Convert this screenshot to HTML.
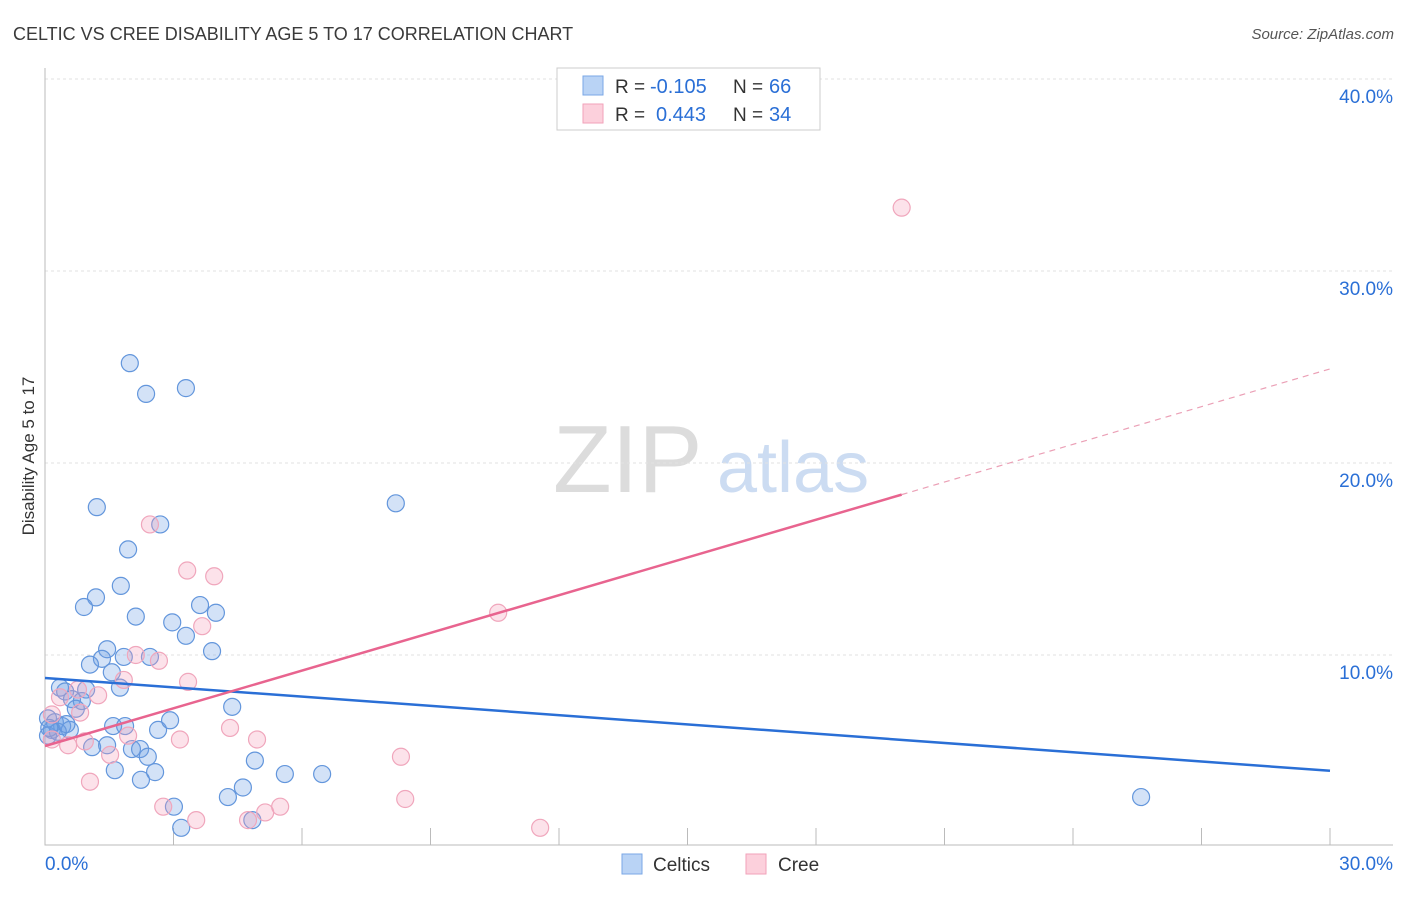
<!DOCTYPE html>
<html><head><meta charset="utf-8"><style>
body{margin:0;background:#fff;font-family:"Liberation Sans",sans-serif}
svg text{font-family:"Liberation Sans",sans-serif}
</style></head><body>
<svg width="1406" height="892" xmlns="http://www.w3.org/2000/svg">
<text x="13" y="40" font-size="18" fill="#3a3a3a">CELTIC VS CREE DISABILITY AGE 5 TO 17 CORRELATION CHART</text>
<text x="1394" y="39" font-size="15" fill="#555" font-style="italic" text-anchor="end">Source: ZipAtlas.com</text>
<g>
<text x="553" y="492" font-size="96" fill="#dcdcdc" font-family="Liberation Serif,serif">ZIP</text>
<text x="717" y="492" font-size="72" fill="#ccdcf2">atlas</text>
</g>
<g id="grid"></g>
<g id="axes"></g>
<g id="marks"></g>
<text transform="translate(34,456) rotate(-90)" font-size="17" fill="#333" text-anchor="middle">Disability Age 5 to 17</text>
<g>
<rect x="557" y="68" width="263" height="62" fill="#fff" stroke="#ccc"/>
<rect x="583" y="76" width="20" height="19" fill="#b9d3f5" stroke="#7aa7e6"/>
<rect x="583" y="104" width="20" height="19" fill="#fcd0dc" stroke="#f2a2ba"/>
<text x="615" y="93" font-size="19" fill="#333">R =</text>
<text x="650" y="93" font-size="20" fill="#2a6fd6">-0.105</text>
<text x="733" y="93" font-size="19" fill="#333">N =</text>
<text x="769" y="93" font-size="20" fill="#2a6fd6">66</text>
<text x="615" y="121" font-size="19" fill="#333">R =</text>
<text x="656" y="121" font-size="20" fill="#2a6fd6">0.443</text>
<text x="733" y="121" font-size="19" fill="#333">N =</text>
<text x="769" y="121" font-size="20" fill="#2a6fd6">34</text>
</g>
<g>
<rect x="622" y="854" width="20" height="20" fill="#b9d3f5" stroke="#7aa7e6"/>
<text x="653" y="871" font-size="19" fill="#333">Celtics</text>
<rect x="746" y="854" width="20" height="20" fill="#fcd0dc" stroke="#f2a2ba"/>
<text x="778" y="871" font-size="19" fill="#333">Cree</text>
</g>
</svg>
<script>
const xTicks=[0,30];
const yTicks=[10,20,30,40];
const celticsX=[1.98,2.36,3.29,1.21,2.69,8.19,1.94,1.77,1.19,0.91,2.12,3.62,3.99,2.97,3.29,3.90,1.45,1.33,1.05,1.84,2.45,1.56,0.35,0.47,0.96,1.75,0.63,0.86,0.72,4.37,0.07,0.23,0.40,0.16,0.58,1.59,1.87,2.64,2.92,0.07,1.10,1.45,2.03,2.22,2.40,4.90,1.63,2.57,5.60,6.47,2.24,4.62,4.27,3.01,4.84,3.18,25.59,0.3,0.5,0.1];
const celticsY=[25.2,23.6,23.9,17.7,16.8,17.9,15.5,13.6,13.0,12.5,12.0,12.6,12.2,11.7,11.0,10.2,10.3,9.8,9.5,9.9,9.9,9.1,8.3,8.1,8.2,8.3,7.7,7.6,7.2,7.3,6.7,6.5,6.3,6.1,6.1,6.3,6.3,6.1,6.6,5.8,5.2,5.3,5.1,5.1,4.7,4.5,4.0,3.9,3.8,3.8,3.5,3.1,2.6,2.1,1.4,1.0,2.6,6.0,6.4,6.2];
const creeX=[20.0,2.45,3.32,3.95,10.58,3.67,2.12,2.66,3.34,1.84,1.24,0.77,0.35,0.82,0.16,4.32,3.15,4.95,1.94,0.54,1.52,8.31,1.05,2.76,3.53,5.49,5.14,4.74,8.41,11.56,0.16,0.93];
const creeY=[33.3,16.8,14.4,14.1,12.2,11.5,10.0,9.7,8.6,8.7,7.9,8.2,7.8,7.0,6.9,6.2,5.6,5.6,5.8,5.3,4.8,4.7,3.4,2.1,1.4,2.1,1.8,1.4,2.5,1.0,5.6,5.5];
const celticsTrend=[8.8,3.97];
const creeTrend=[5.26,24.9];
const creeSolidEnd=20;
const NS='http://www.w3.org/2000/svg';
const X=v=>45+v/30*1285, Y=v=>847-v*19.2;
function mk(t,a,p){const e=document.createElementNS(NS,t);for(const k in a)e.setAttribute(k,a[k]);p.appendChild(e);return e;}
const grid=document.getElementById('grid'),axes=document.getElementById('axes'),marks=document.getElementById('marks');
yTicks.forEach(v=>{const l=mk('line',{x1:45,x2:1393,y1:Y(v),y2:Y(v),stroke:'#e2e2e2','stroke-dasharray':'3,3'},grid);


const t=mk('text',{x:1393,y:Y(v)+24,'font-size':19,fill:'#2a6fd6','text-anchor':'end'},axes);t.textContent=v.toFixed(1)+'%';

});
const ax=mk('path',{d:'M45 68V845H1393',stroke:'#bbb',fill:'none'},axes);


for(let i=0;i<=10;i++){const tk=mk('line',{x1:X(i*3),x2:X(i*3),y1:828,y2:845,stroke:'#bbb'},axes);

}
xTicks.forEach((v,i)=>{const t=mk('text',{x:i?1393:45,y:870,'font-size':19,fill:'#2a6fd6','text-anchor':i?'end':'start'},axes);t.textContent=v.toFixed(1)+'%';

});
celticsX.forEach((x,i)=>{const c=mk('circle',{cx:X(x),cy:Y(celticsY[i]),r:8.5,fill:'rgba(110,160,230,0.3)',stroke:'#6396dc','stroke-width':1.2},marks);

});
creeX.forEach((x,i)=>{const c=mk('circle',{cx:X(x),cy:Y(creeY[i]),r:8.5,fill:'rgba(245,160,185,0.3)',stroke:'#f0a6bc','stroke-width':1.2},marks);

});
const bl=mk('line',{x1:X(0),y1:Y(celticsTrend[0]),x2:X(30),y2:Y(celticsTrend[1]),stroke:'#2a6fd6','stroke-width':2.5},marks);


const cy=x=>creeTrend[0]+(creeTrend[1]-creeTrend[0])*x/30;
const pl=mk('line',{x1:X(0),y1:Y(cy(0)),x2:X(creeSolidEnd),y2:Y(cy(creeSolidEnd)),stroke:'#e8648f','stroke-width':2.5},marks);


const pd=mk('line',{x1:X(creeSolidEnd),y1:Y(cy(creeSolidEnd)),x2:X(30),y2:Y(cy(30)),stroke:'#eba0b6','stroke-width':1.2,'stroke-dasharray':'6,5'},marks);


</script>
</body></html>
